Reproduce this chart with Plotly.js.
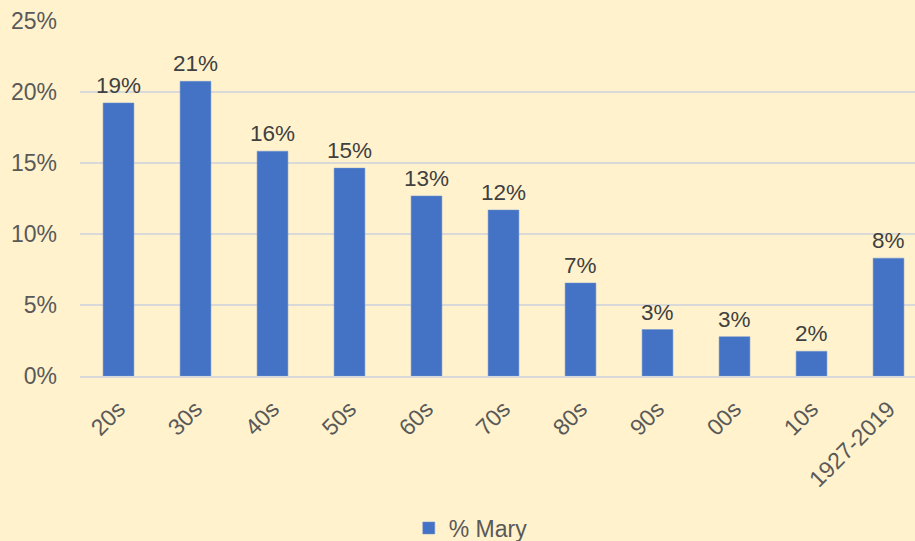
<!DOCTYPE html>
<html>
<head>
<meta charset="utf-8">
<script src="https://cdn.plot.ly/plotly-3.0.1.min.js"></script>
<style>html,body{margin:0;padding:0;background:#FFF2CC;}</style>
</head>
<body>
<div id="chart" style="width:915px;height:541px;"></div>
<script>
const categories = ['20s','30s','40s','50s','60s','70s','80s','90s','00s','10s','1927-2019'];
const pctMary = [0.1923, 0.2075, 0.1583, 0.1464, 0.1268, 0.1169, 0.0655, 0.0327, 0.0277, 0.0174, 0.0830];
const yTickVals = [0, 0.05, 0.10, 0.15, 0.20, 0.25];
const yTickText = ['0%','5%','10%','15%','20%','25%'];

const FONT = 'Liberation Sans, Arial, sans-serif';

const trace = {
  type: 'bar',
  x: categories,
  y: pctMary,
  name: '% Mary',
  marker: {color: '#4472C4', line: {color: '#6F93D3', width: 0.5}},
  hoverinfo: 'x+y'
};

const labels = categories.map((c, i) => ({
  x: c, y: pctMary[i], xref: 'x', yref: 'y',
  text: Math.round(pctMary[i] * 100) + '%',
  showarrow: false, yanchor: 'bottom', yshift: 3,
  font: {family: FONT, size: 22.5, color: '#404040'}
}));

const layout = {
  width: 915, height: 541,
  paper_bgcolor: '#FFF2CC',
  plot_bgcolor: '#FFF2CC',
  margin: {l: 80, r: 0, t: 20.5, b: 164.5},
  font: {family: FONT, size: 23, color: '#595959'},
  bargap: 0.6,
  showlegend: true,
  legend: {
    orientation: 'h', x: 0.468, xanchor: 'center',
    yref: 'container', y: 0.024, yanchor: 'middle',
    font: {family: FONT, size: 23, color: '#595959'},
    bgcolor: 'rgba(0,0,0,0)'
  },
  annotations: labels,
  xaxis: {
    type: 'category',
    range: [-0.5, 10.344],
    tickangle: -45,
    showgrid: false,
    showline: true, linecolor: '#D9D9D9', linewidth: 1.5,
    ticks: '',
    ticklabelstandoff: 9,
    tickfont: {family: FONT, size: 23, color: '#595959'},
    fixedrange: true
  },
  yaxis: {
    range: [0, 0.25],
    tickvals: yTickVals,
    ticktext: yTickText,
    showgrid: true, gridcolor: '#D9D9D9', gridwidth: 1.5,
    zeroline: false,
    showline: false,
    ticks: '',
    ticklabelstandoff: 22,
    tickfont: {family: FONT, size: 23, color: '#595959'},
    fixedrange: true
  }
};

Plotly.newPlot('chart', [trace], layout, {displayModeBar: false, staticPlot: true});
</script>
</body>
</html>
